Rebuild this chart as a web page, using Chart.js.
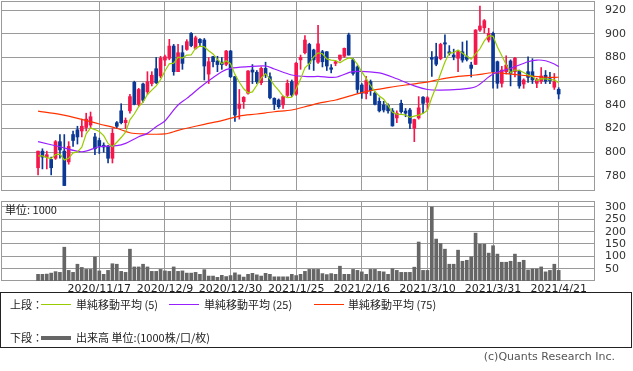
<!DOCTYPE html>
<html>
<head>
<meta charset="utf-8">
<script src="https://cdn.jsdelivr.net/npm/chart.js@4.4.0/dist/chart.umd.min.js"></script>
<style>
body { margin:0; background:#fff; width:633px; height:371px; position:relative; overflow:hidden;
       font-family:"Noto Sans CJK JP","DejaVu Sans",sans-serif; color:#222; }
#priceChart { position:absolute; left:0; top:0; }
#volChart { position:absolute; left:0; top:195px; }
.unit { position:absolute; left:5px; top:201px; font-size:11px; }
.legend { position:absolute; left:0; top:292px; width:630px; height:54px; border:1px solid #222; }
.lg { position:absolute; font-size:11px; line-height:13px; white-space:nowrap; }
.ln { position:absolute; height:1px; width:30px; }
.copy { position:absolute; right:18px; top:350px; font-size:11px; color:#555; font-family:"DejaVu Sans",sans-serif; }
</style>
</head>
<body>
<canvas id="priceChart" width="633" height="195"></canvas>
<canvas id="volChart" width="633" height="100"></canvas>
<div class="unit">単位: 1000</div>
<div class="legend">
  <span class="lg" style="left:9px;top:5px">上段：</span>
  <span class="ln" style="left:40px;top:11px;background:#99cc00"></span>
  <span class="lg" style="left:75px;top:5px">単純移動平均 (5)</span>
  <span class="ln" style="left:168px;top:11px;background:#9a1fff"></span>
  <span class="lg" style="left:203px;top:5px">単純移動平均 (25)</span>
  <span class="ln" style="left:313px;top:11px;background:#ff3300"></span>
  <span class="lg" style="left:347px;top:5px">単純移動平均 (75)</span>
  <span class="lg" style="left:9px;top:38px">下段：</span>
  <span class="ln" style="left:40px;top:43px;height:4px;background:#666"></span>
  <span class="lg" style="left:75px;top:38px">出来高 単位:(1000株/口/枚)</span>
</div>
<div class="copy">(c)Quants Research Inc.</div>

<script>
/* ---------- データ ---------- */
const oct20 = [27, 28, 29, 30];
const nov20 = [2, 4, 5, 6, 9, 10, 11, 12, 13, 16, 17, 18, 19, 20, 24, 25, 26, 27, 30];
const dec20 = [1, 2, 3, 4, 7, 8, 9, 10, 11, 14, 15, 16, 17, 18, 21, 22, 23, 24, 25, 28, 29, 30];
const jan21 = [4, 5, 6, 7, 8, 12, 13, 14, 15, 18, 19, 20, 21, 22, 25, 26, 27, 28, 29];
const feb21 = [1, 2, 3, 4, 5, 8, 9, 10, 12, 15, 16, 17, 18, 19, 22, 24, 25, 26];
const mar21 = [1, 2, 3, 4, 5, 8, 9, 10, 11, 12, 15, 16, 17, 18, 19, 22, 23, 24, 25, 26, 29, 30, 31];
const apr21 = [1, 2, 5, 6, 7, 8, 9, 12, 13, 14, 15, 16, 19, 20, 21];

const dates = [].concat(
    oct20.map(d => '2020/10/' + d), nov20.map(d => '2020/11/' + d), dec20.map(d => '2020/12/' + d),
    jan21.map(d => '2021/1/' + d), feb21.map(d => '2021/2/' + d), mar21.map(d => '2021/3/' + d),
    apr21.map(d => '2021/4/' + d));

const opens = [787,801,796,794,795,809,801,792,815,819, 818,821,823,813,810,806,805,795,825,835,
    825,835,859,840.5,857.6,851,858,870.5,864.4,877.8, 879.3,889.6,868,884,886.8,900.3,887.7,895.3,894.7,866,
    880.6,877,876,874.2,885.4,863.8,837,842.7,849.8,869.4, 867.5,858.7,870.8,863.8,845.5,844.1,840,848,859.5,849,
    878,884,891,886.3,876,884.8,884.8,871.3,875,878.5, 881,899,878,872,856.8,849.5,859.5,850,843,840,
    839.5,835,829,841.3,834.8,835.7,820.3,829,846.5,842.2, 880,880.6,879,892.4,884.8,882,879.3,884.8,880.6,873.6,
    874.2,903.1,905,894.7,900.3,876.4,858.2,868,877,868, 868.6,857.6,868,868,858.2,860,865,862.1,854.9,853.1];
const highs = [801,803,801,796,810,815,815,809,818,822, 828,833,834,816,812,808,806,820,826,841,
    829,849,860,854,858.4,868,868,880,881,882, 895.3,891,891,890,895,901,898,896,896,880,
    881,881,880,886,886,864,853,847,869,874, 869,872,876,867,846,845,847.5,861,861,876,
    882,898.5,892,887,907,886,885,874,877,882, 888,900.5,879,873,858,864,861,851,846,843,
    841,837,835,844,837,837,828,847,847,847, 885,892,892,899,890,887,886,893,894,876,
    903.5,923.4,912,904.6,901.5,877,872.5,881.4,878,880, 869.4,862,880.6,879,862.5,871.5,869,867.5,866.5,854.5];
const lows = [781,786,786,781,794,795,772,790,805,807, 813,818,820,798,799,800,791,791,820,824,
    820,833,840,839,842.4,849,856,858,863,873, 878,865,868,870,886,889,887,890,861,858,
    872,868,870,873,863,826,828,837,849,858, 858,857,863,845,836,837,837,847,847,848,
    870,883,870,869,875,872,869,867,873,877, 880,882,865,850,845.5,845,848,840,834,834,
    833,822,825,833,830,820,809,828,833,836, 864,873,878,880,882,878,868,876,877,863.5,
    874,902,900.6,893,854,854,855,866,856,863.5, 854,854,859,858,854.5,858,858,858,853,845];
const closes = [801,796,798,787,809,802,772,805,810,813, 822,828,830,803,805,804.5,795,816,822,825,
    827,847,840.5,853,844,859.5,865,858.7,879.3,880.6, 889.6,868,884,875,893.3,890,896.6,892.4,872.8,876.4,
    876.4,874,874,885.4,863.8,831.5,840.7,846.4,868.6,867.7, 859.5,870.8,865.2,846,840.5,838.5,847,858.2,848.3,875.1,
    880.1,894.7,875,878,891.5,876.4,872.8,870,876.4,882, 887.7,882,866.5,853,849.8,860.5,852,840.5,835,835.7,
    835,822.3,833,834.3,833,824.5,827.7,837.5,841.3,846, 878.5,874.3,891,891.3,883.5,880.6,884.8,877.8,878.4,870.8,
    903.1,906.5,911,900.3,868,858.2,869.4,873.6,866.6,879.3, 856,861,863.2,861,861,864.4,860,860.5,859.5,849.2];
const volumes = [27,27,28,32,38,35,137,43,35,68, 55,47,47,97,41,27,43,70,68,39,
    35,129,57,57,68,57,39,39,47,41, 39,57,39,41,32,32,35,27,46,20,
    20,15,23,18,22,33,25,16,27,31, 25,20,31,27,17,17,17,17,27,22,
    27,39,47,47,47,30,26,30,27,60, 27,27,47,43,37,27,47,47,39,37,
    27,50,43,35,35,35,56,158,43,43, 300,170,152,129,68,68,125,80,84,98,
    194,149,149,113,143,109,76,76,80,109, 76,84,45,49,49,57,37,43,68,43];

// 移動平均
const ma5Head = [797, 797, 795.5, 794.7];
const ma25Idx = [0,5,10,14,18,20,23,25,27,29,30,32,34,38,42,44,48,52,54,58,62,64,68,72,78,82,86,89,92,96,100,104,108,112,114,116,118,119];
const ma25Val = [809,804.7,800.5,804.7,805.6,807.6,813.2,816,821.6,826.4,831,839.9,845.5,857.6,868,870.8,872.2,872.8,870.3,865.2,863.8,864,863.3,868,867,862,856,853,852.5,853.1,855.3,866,870.8,876.4,877.8,877.2,874.5,872.2];
const ma75Idx = [0,5,10,14,18,21,24,29,32,34,38,42,46,50,54,58,62,64,68,72,76,80,84,88,92,96,100,104,108,112,116,119];
const ma75Val = [834.8,832,827.8,823.9,820.3,816.5,815.5,815.5,818.5,820.3,823.6,826.7,830.6,832.3,834.2,835.7,839.4,841.3,844.1,848.3,852,854.5,856.8,858.7,861.6,864,865.2,867.1,866,864.4,863.3,863.3];

const priceTicks = [780, 800, 820, 840, 860, 880, 900, 920];
const volTicks = [50, 100, 150, 200, 250, 300];
const gridIdx = [14, 29, 44, 59, 74, 89, 104, 119];

/* ---------- 表示設定 ---------- */
const RED = '#f5164b';
const BLUE = '#0b3895';
const GRID = '#9a9a9a';
const X_MIN = -8.47, X_MAX = 127.3;

const ma5 = closes.map((c, i) => {
    if (i < 4) return ma5Head[i];
    let s = 0;
    for (let k = i - 4; k <= i; k++) s += closes[k];
    return s / 5;
});

const candleColor = opens.map((o, i) => closes[i] >= o ? RED : BLUE);

const boxPlugin = {
    id: 'box',
    beforeDatasetsDraw(chart) {
        const a = chart.chartArea, ctx = chart.ctx;
        ctx.save();
        ctx.strokeStyle = GRID;
        ctx.lineWidth = 1;
        ctx.strokeRect(Math.round(a.left) + 0.5, Math.round(a.top) + 0.5,
            Math.round(a.right - a.left) - 1, Math.round(a.bottom - a.top) - 1);
        ctx.restore();
    }
};

function xScale(showLabels) {
    return {
        type: 'linear', min: X_MIN, max: X_MAX, offset: false,
        grid: { color: GRID, drawTicks: false, offset: false },
        border: { display: false },
        ticks: {
            display: showLabels, padding: 2, maxRotation: 0, autoSkip: false,
            color: '#222', font: { family: 'DejaVu Sans', size: 11 },
            callback: v => dates[v] || ''
        },
        afterBuildTicks: s => { s.ticks = gridIdx.map(v => ({ value: v })); },
        afterFit: s => { s.height = showLabels ? 14 : 0; s.paddingLeft = 0; s.paddingRight = 0; }
    };
}

function yScale(min, max, ticks) {
    return {
        position: 'right', min: min, max: max,
        grid: { color: GRID, drawTicks: false },
        border: { display: false },
        ticks: { padding: 10, autoSkip: false, color: '#333', font: { family: 'DejaVu Sans', size: 11 } },
        afterBuildTicks: s => { s.ticks = ticks.map(v => ({ value: v })); },
        afterFit: s => { s.width = 38; s.paddingTop = 0; s.paddingBottom = 0; }
    };
}

/* ---------- 株価チャート ---------- */
new Chart(document.getElementById('priceChart'), {
    type: 'bar',
    data: {
        datasets: [
            { type: 'line', data: ma5.map((v, i) => ({ x: i, y: v })), borderColor: '#99cc00',
              borderWidth: 1.2, pointRadius: 0, order: 0 },
            { type: 'line', data: ma25Idx.map((x, k) => ({ x: x, y: ma25Val[k] })), borderColor: '#9a1fff',
              borderWidth: 1.2, pointRadius: 0, tension: 0.3, order: 0 },
            { type: 'line', data: ma75Idx.map((x, k) => ({ x: x, y: ma75Val[k] })), borderColor: '#ff3300',
              borderWidth: 1.2, pointRadius: 0, tension: 0.3, order: 0 },
            { data: opens.map((o, i) => ({ x: i, y: [o, closes[i]] })), backgroundColor: candleColor,
              barThickness: 3, minBarLength: 1, grouped: false, order: 1 },
            { data: lows.map((l, i) => ({ x: i, y: [l, highs[i]] })), backgroundColor: candleColor,
              barThickness: 1, grouped: false, order: 2 }
        ]
    },
    options: {
        responsive: false, animation: false, devicePixelRatio: 1,
        layout: { padding: { top: 1, left: 1, right: 0, bottom: 4 } },
        plugins: { legend: { display: false }, tooltip: { enabled: false } },
        scales: { x: xScale(false), y: yScale(767.4, 927.6, priceTicks) }
    },
    plugins: [boxPlugin]
});

/* ---------- 出来高チャート ---------- */
new Chart(document.getElementById('volChart'), {
    type: 'bar',
    data: {
        datasets: [{ data: volumes.map((v, i) => ({ x: i, y: v })), backgroundColor: '#666',
                     barThickness: 3, grouped: false }]
    },
    options: {
        responsive: false, animation: false, devicePixelRatio: 1,
        layout: { padding: { top: 6, left: 1, right: 0, bottom: 0 } },
        plugins: { legend: { display: false }, tooltip: { enabled: false } },
        scales: { x: xScale(true), y: yScale(0, 324.3, volTicks) }
    },
    plugins: [boxPlugin]
});
</script>
</body>
</html>
